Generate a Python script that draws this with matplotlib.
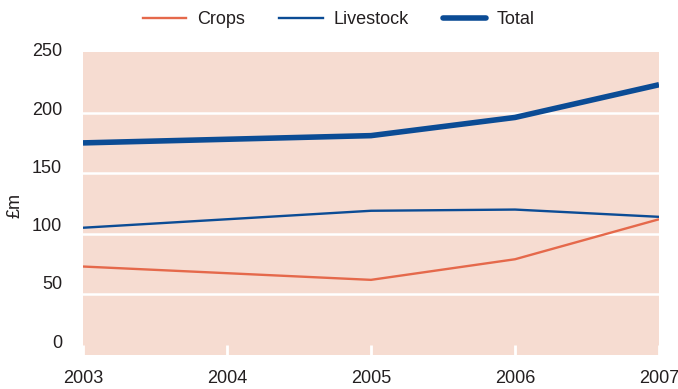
import matplotlib
matplotlib.use("Agg")
import matplotlib.pyplot as plt
from matplotlib.lines import Line2D
from matplotlib.transforms import blended_transform_factory

plt.rcParams['font.family'] = ['Liberation Sans', 'DejaVu Sans']

years = [2003, 2005, 2006, 2007]
crops = [73, 62, 79, 112]
livestock = [105, 119, 120, 114]
total = [175, 181, 196, 223]
year_ticks = [2003, 2004, 2005, 2006, 2007]
y_ticks = [0, 50, 100, 150, 200, 250]

bg = '#F6DCD1'
orange = '#E5694B'
blue = '#0B4C95'
text_col = '#231F20'
fs = 13
thin = 1.7
thick = 4.0

fig = plt.figure(figsize=(6.78, 3.89), dpi=100)
ax = fig.add_axes([83/678, 1-355/389, (659-83)/678, (355-52)/389])
ax.set_facecolor(bg)

for v in y_ticks[1:-1]:
    ax.axhline(v, color='white', lw=1.8, zorder=1)

ax.plot(years, crops, color=orange, lw=thin, zorder=3, solid_capstyle='butt')
ax.plot(years, livestock, color=blue, lw=thin, zorder=3, solid_capstyle='butt')
ax.plot(years, total, color=blue, lw=thick, zorder=4, solid_capstyle='butt')

ax.set_xlim(2003, 2007)
ax.set_ylim(0, 250)
for s in ax.spines.values():
    s.set_visible(False)

ax.set_xticks(year_ticks)
ax.set_xticklabels([str(y) for y in year_ticks], fontsize=fs, color=text_col)
ax.tick_params(axis='x', direction='in', length=7, width=2, color='white', pad=11)

# y labels sit a little above their gridlines, more so toward the bottom
ax.set_yticks(y_ticks)
ax.set_yticklabels([])
ax.tick_params(axis='y', length=0)
trans = blended_transform_factory(ax.transAxes, ax.transData)
for v in y_ticks:
    lift = 8.5 * (1 - v / 250)
    ax.annotate(str(v), xy=(0, v), xycoords=trans,
                xytext=(-15, lift), textcoords='offset points',
                ha='right', va='center', fontsize=fs, color=text_col)

fig.text(15/678, 1-205/389, '£m', rotation=90, ha='center', va='center',
         fontsize=fs, color=text_col)

handles = [Line2D([], [], color=orange, lw=thin),
           Line2D([], [], color=blue, lw=thin),
           Line2D([], [], color=blue, lw=thick, solid_capstyle='round')]
fig.legend(handles, ['Crops', 'Livestock', 'Total'], loc='center',
           bbox_to_anchor=(0.5, 1-20/389), ncol=3, frameon=False,
           fontsize=fs, handlelength=2.4, handletextpad=0.6,
           columnspacing=1.9, labelcolor=text_col)

fig.savefig('out.png', dpi=100)
